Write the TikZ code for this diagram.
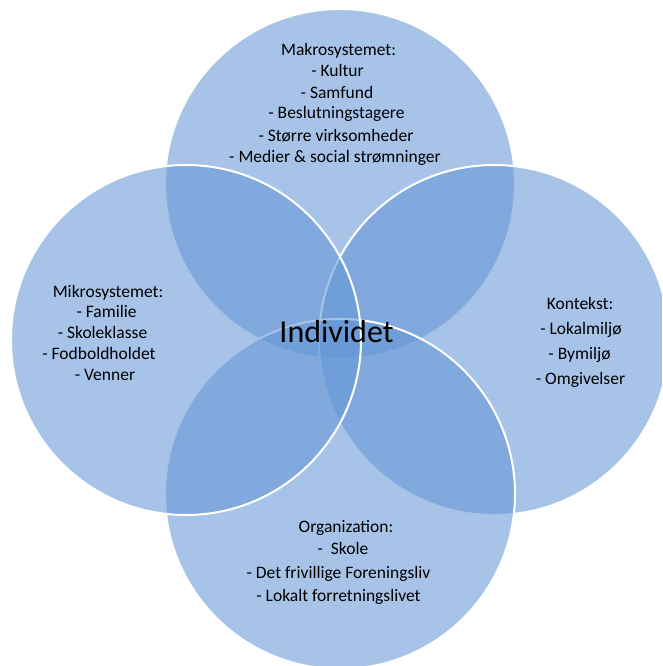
\documentclass[tikz,border=0pt]{standalone}
\usepackage{fontspec}
\setmainfont{Carlito}
\definecolor{vennblue}{RGB}{100,150,214}
\begin{document}
\begin{tikzpicture}[x=1pt,y=-1pt,
  venn/.style={fill=vennblue,fill opacity=0.57,draw=white,line width=2pt},
  lbl/.style={anchor=base,inner sep=0pt,font=\fontsize{17.5}{21}\selectfont,text=black},
  core/.style={anchor=base,inner sep=0pt,font=\fontsize{32}{36}\selectfont,text=black}]
\path[use as bounding box] (0,0) rectangle (662,666);
\begin{scope}
\clip (0,0) rectangle (662,666);
\draw[venn] (340,184) circle[radius=175];
\draw[venn] (494,340) circle[radius=175];
\draw[venn] (340,494) circle[radius=175];
\draw[venn] (186,340) circle[radius=175];
\end{scope}
% top
\node[lbl] (m0) at (338.5,56) {Makrosystemet:};
\node[lbl] (m1) at (337.5,77) {- Kultur};
\node[lbl] (m2) at (337,99) {- Samfund};
\node[lbl] (m3) at (336.5,119) {- Beslutningstagere};
\node[lbl] (m4) at (336,141) {- Større virksomheder};
\node[lbl] (m5) at (335,162) {- Medier \& social strømninger};
% left
\node[lbl] (k0) at (108,297) {Mikrosystemet:};
\node[lbl] (k1) at (106.5,317.5) {- Familie};
\node[lbl] (k2) at (102.5,338) {- Skoleklasse};
\node[lbl] (k3) at (99,359) {- Fodboldholdet};
\node[lbl] (k4) at (105,380) {- Venner};
% right
\node[lbl] (r0) at (580,309) {Kontekst:};
\node[lbl] (r1) at (581,334) {- Lokalmiljø};
\node[lbl] (r2) at (579.5,359) {- Bymiljø};
\node[lbl] (r3) at (580.5,384) {- Omgivelser};
% bottom
\node[lbl] (b0) at (346,532) {Organization:};
\node[lbl] (b1) at (343,554) {-~~Skole};
\node[lbl] (b2) at (338.5,578) {- Det frivillige Foreningsliv};
\node[lbl] (b3) at (338.5,601) {- Lokalt forretningslivet};
% centre
\node[core] (ind) at (336.5,342) {Individet};
\end{tikzpicture}
\end{document}
